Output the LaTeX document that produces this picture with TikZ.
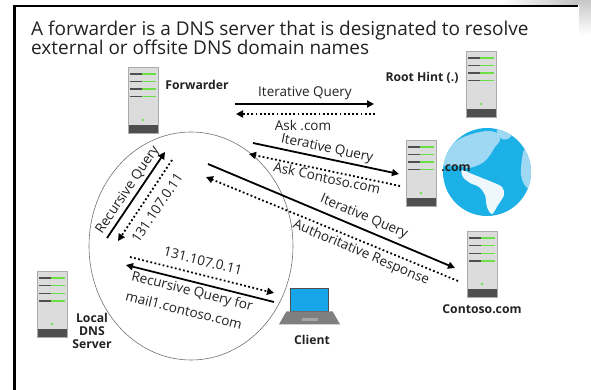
\documentclass[tikz,border=0pt]{standalone}
\usepackage{fontspec}
\setmainfont{Open Sans}
\usetikzlibrary{arrows.meta,calc}

\definecolor{srvbody}{HTML}{DCDCDC}
\definecolor{srvedge}{HTML}{ABABAB}
\definecolor{srvdark}{HTML}{4F4F4F}
\definecolor{srvgreen}{HTML}{6AE044}
\definecolor{globeblue}{HTML}{1BB1E7}
\definecolor{landlight}{HTML}{9FD8F2}
\definecolor{landwhite}{HTML}{EEF7FB}
\definecolor{screenblue}{HTML}{17A6E8}
\definecolor{laptopframe}{HTML}{4D4D4D}
\definecolor{laptopbase}{HTML}{7F7F7F}
\definecolor{inkcol}{HTML}{222222}

\tikzset{
  server/.style={rectangle, draw=srvedge, fill=srvbody, line width=0.6pt,
    minimum width=30pt, minimum height=66pt, inner sep=0pt,
    path picture={
      \foreach \k in {0,...,3}{
        \draw[srvdark, line width=1.4pt]
          ([shift={(2pt,-7pt-\k*7.6pt)}]path picture bounding box.north west) -- ++(12pt,0pt);
        \draw[srvgreen, line width=1.4pt]
          ([shift={(14pt,-7pt-\k*7.6pt)}]path picture bounding box.north west) -- ++(14pt,0pt);
      }
      \fill[srvgreen] ([shift={(15pt,-53pt)}]path picture bounding box.north west) circle (1.4pt);
      \fill[srvdark] ([shift={(0pt,8pt)}]path picture bounding box.south west)
        rectangle (path picture bounding box.south east);
    }},
  hostlabel/.style={font=\fontsize{12.2}{13}\selectfont\bfseries, text=inkcol, inner sep=0pt, align=center},
  msglabel/.style={font=\fontsize{13.5}{15}\selectfont, text=inkcol, inner sep=0pt, align=center},
  titletext/.style={anchor=base west, inner sep=0pt, font=\fontsize{19}{21}\selectfont, text=inkcol},
  query/.style={line width=1.8pt, draw=black, -{Triangle[length=7pt,width=7pt]}},
  reply/.style={line width=1.8pt, draw=black, dash pattern=on 1.8pt off 2.4pt,
    -{Triangle[length=7pt,width=7pt]}},
}

\begin{document}
\begin{tikzpicture}[x=1pt,y=-1pt]
\useasboundingbox (0,0) rectangle (591,390);
\fill[white] (0,0) rectangle (591,390);

% frame with faded corner
\shade[left color=white, right color=black!28] (500,0) rectangle (591,5);
\shade[top color=black!22, bottom color=white] (579,0) rectangle (591,35);
\draw[line width=2.5pt, black] (14.5,390) -- (14.5,6) -- (578,6);

% title
\node[titletext] (title1) at (31,36) {A forwarder is a DNS server that is designated to resolve};
\node[titletext] (title2) at (31,55) {external or offsite DNS domain names};

% circle around the local exchange
\draw[black!55, line width=0.6pt] (191,246) ellipse [x radius=102, y radius=114];

% servers
\node[server] (fwd) at (143,100) {};
\node[server] (root) at (481,84) {};
\node[server] (comsrv) at (421,173) {};
\node[server] (contoso) at (482,264) {};
\node[server] (local) at (52,304) {};

% globe
\node[circle, fill=globeblue, minimum size=88pt, inner sep=0pt] (globe) at (487,172) {};
\begin{scope}
  \clip (487,172) circle (44);
  % North America
  \fill[landlight] plot[smooth cycle, tension=0.55] coordinates {
    (443,165) (448,150) (458,140) (472,134) (487,131) (497,133) (500,140)
    (495,147) (490,155) (484,162) (476,166) (468,168) (458,166)};
  % Greenland
  \fill[landlight] plot[smooth cycle, tension=0.6] coordinates {
    (497,129) (508,127) (514,131) (508,139) (500,138)};
  % Central and South America
  \fill[landwhite] plot[smooth cycle, tension=0.55] coordinates {
    (462,170) (472,174) (482,178) (492,182) (502,187) (504,195)
    (498,205) (492,214) (487,207) (485,195) (479,187) (470,183) (463,177)};
  % Africa edge
  \fill[landlight] plot[smooth cycle, tension=0.6] coordinates {
    (524,150) (532,152) (534,172) (528,188) (521,175)};
\end{scope}

% laptop
\node[rectangle, draw=laptopframe, line width=1.5pt, fill=screenblue,
  minimum width=38pt, minimum height=23pt, inner sep=0pt] (client) at (309.5,300) {};
\fill[laptopbase] ([shift={(-23pt,1pt)}]client.south) -- ([shift={(23pt,1pt)}]client.south)
  -- ([shift={(30.5pt,-12pt)}]client.south) -- ([shift={(-30.5pt,-12pt)}]client.south) -- cycle;
\fill[black!35] ([shift={(-8pt,-6pt)}]client.south) rectangle ([shift={(8pt,-9pt)}]client.south);

% host labels
\node[hostlabel] (lblfwd) at (197,85) {Forwarder};
\node[hostlabel] (lblroot) at (422,78) {Root Hint (.)};
\node[hostlabel] (lblcom) at (456,168) {.com};
\node[hostlabel] (lblcontoso) at (482,309) {Contoso.com};
\node[hostlabel] (lblclient) at (312,340) {Client};
\node[hostlabel] (lbllocal) at (92,331) {Local\\DNS\\Server};

% arrow end points
\coordinate (q1s) at (235,104);  \coordinate (q1e) at (374,104);
\coordinate (r1s) at (375,114);  \coordinate (r1e) at (236,114);
\coordinate (q2s) at (253,143);  \coordinate (q2e) at (399,174);
\coordinate (r2s) at (400,186);  \coordinate (r2e) at (249,154);
\coordinate (q3s) at (208,164);  \coordinate (q3e) at (455,268);
\coordinate (r3s) at (458,281);  \coordinate (r3e) at (206,177);
\coordinate (q4s) at (107,238);  \coordinate (q4e) at (165,152);
\coordinate (r4s) at (172,160);  \coordinate (r4e) at (118,241);
\coordinate (r5s) at (130,257);  \coordinate (r5e) at (274,293);
\coordinate (q5s) at (274,302);  \coordinate (q5e) at (126,265);

% forwarder <-> root hint
\draw[query] (q1s) -- (q1e);
\draw[reply] (r1s) -- (r1e);
\node[msglabel] (m1a) at (305,93) {Iterative Query};
\node[msglabel] (m1b) at (303,125) {Ask .com};

% forwarder <-> .com
\draw[query] (q2s) -- (q2e);
\draw[reply] (r2s) -- (r2e);
\node[msglabel, rotate=-12] (m2a) at (327,149) {Iterative Query};
\node[msglabel, rotate=-12] (m2b) at (327,178) {Ask Contoso.com};

% forwarder <-> contoso.com
\draw[query] (q3s) -- (q3e);
\draw[reply] (r3s) -- (r3e);
\node[msglabel, rotate=-23] (m3a) at (364,217) {Iterative Query};
\node[msglabel, rotate=-23] (m3b) at (361,253) {Authoritative Response};

% local DNS server <-> forwarder
\draw[query] (q4s) -- (q4e);
\draw[reply] (r4s) -- (r4e);
\node[msglabel, rotate=56] (m4a) at (128,190) {Recursive Query};
\node[msglabel, rotate=56] (m4b) at (157,208) {131.107.0.11};

% client <-> local DNS server
\draw[reply] (r5s) -- (r5e);
\draw[query] (q5s) -- (q5e);
\node[msglabel, rotate=-14] (m5a) at (203,261) {131.107.0.11};
\node[msglabel, rotate=-14] (m5b) at (192,292) {Recursive Query for};
\node[msglabel, rotate=-14] (m5c) at (184,310) {mail1.contoso.com};
\end{tikzpicture}
\end{document}
